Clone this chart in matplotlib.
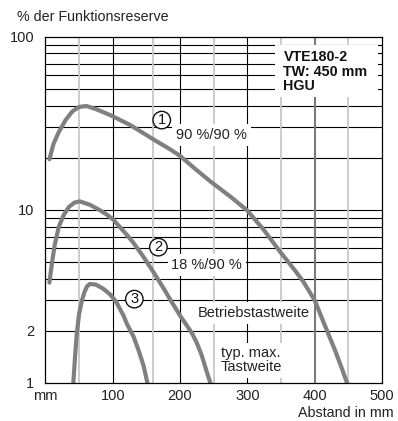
import matplotlib
matplotlib.use("Agg")
import matplotlib.pyplot as plt
from matplotlib.patches import Rectangle

plt.rcParams['font.family'] = ['Liberation Sans', 'DejaVu Sans']

# ---- data ----
c1_x = [6, 12, 20, 30, 40, 50, 61, 75, 96, 126, 162, 185, 200, 222, 245, 275,
        300, 325, 349, 370, 383, 400, 415, 430, 440, 448]
c1_y = [19.6, 24.0, 28.2, 33.0, 37.0, 39.3, 39.8, 38.2, 35.3, 30.9, 25.3, 22.4,
        20.5, 17.3, 14.6, 11.9, 9.9, 7.6, 5.7, 4.5, 3.85, 3.0, 2.15, 1.55, 1.22, 1.0]

c2_x = [6, 10, 14, 20, 27, 35, 43, 51, 66, 80, 91, 101, 121, 131, 145, 160, 175,
        185, 200, 210, 218, 225, 232, 240, 245]
c2_y = [3.8, 5.0, 6.3, 8.0, 9.3, 10.4, 11.0, 11.2, 10.7, 10.0, 9.4, 8.76, 7.17,
        6.43, 5.4, 4.4, 3.55, 3.05, 2.45, 2.15, 1.93, 1.7, 1.45, 1.15, 1.0]

c3_x = [41.5, 44, 46.5, 50, 54, 58, 62, 66, 75, 86, 96, 105, 116, 121, 131, 139,
        146, 151.5]
c3_y = [1.0, 1.4, 1.9, 2.5, 2.96, 3.35, 3.62, 3.73, 3.7, 3.5, 3.25, 2.95, 2.45,
        2.2, 1.85, 1.52, 1.25, 1.0]

x_ticks = [0, 100, 200, 300, 400, 500]
x_labels = ['mm', '100', '200', '300', '400', '500']
y_ticks = [1, 2, 10, 100]
y_labels = ['1', '2', '10', '100']

h_grid = [2, 3, 4, 5, 6, 7, 8, 9, 10, 20, 30, 40, 50, 60, 70, 80, 90]
v_grid_dark = [100, 200, 300]
v_grid_mid = [400]
v_grid_light = [50, 160, 250, 350, 450]

curve_color = '#808083'

fig = plt.figure(figsize=(3.98, 4.21), dpi=100)
ax = fig.add_axes([0.114, 0.0903, 0.846, 0.8225])
ax.set_yscale('log')
ax.set_xlim(0, 500)
ax.set_ylim(1, 100)

for v in h_grid:
    ax.axhline(v, color='black', lw=0.8, zorder=1)
for v in v_grid_dark:
    ax.axvline(v, color='black', lw=0.8, zorder=1)
for v in v_grid_mid:
    ax.axvline(v, color='#7a7a7a', lw=1.5, zorder=1)
for v in v_grid_light:
    ax.axvline(v, color='#c8c8c8', lw=1.3, zorder=1)

for xs, ys in [(c1_x, c1_y), (c2_x, c2_y), (c3_x, c3_y)]:
    ax.plot(xs, ys, color=curve_color, lw=3.0, solid_capstyle='round',
            solid_joinstyle='round', zorder=5)

ax.set_xticks(x_ticks)
ax.set_xticklabels(x_labels)
ax.set_yticks(y_ticks)
ax.set_yticklabels(y_labels)
ax.minorticks_off()
ax.tick_params(axis='both', length=0, labelsize=10.5, colors='#222222')
ax.tick_params(axis='x', pad=4)
ax.tick_params(axis='y', pad=8)
for s in ax.spines.values():
    s.set_color('black')
    s.set_linewidth(0.9)
    s.set_zorder(6)

white = dict(boxstyle='square,pad=0.25', fc='white', ec='none')

ax.add_patch(Rectangle((0.682, 0.826), 0.306, 0.150, transform=ax.transAxes,
                       fc='white', ec='none', zorder=2))
ax.text(0.707, 0.899, 'VTE180-2\nTW: 450 mm\nHGU', transform=ax.transAxes,
        fontsize=10.3, fontweight='bold', ha='left', va='center', color='#111111',
        linespacing=1.05, zorder=3)

circ = dict(boxstyle='circle,pad=0.12', fc='white', ec='#111111', lw=1.0)
ax.text(172.8, 33.0, '1', fontsize=10.5, ha='center', va='center', zorder=4,
        bbox=circ, color='#111111')
ax.text(167.8, 6.09, '2', fontsize=10.5, ha='center', va='center', zorder=4,
        bbox=circ, color='#111111')
ax.text(132.1, 3.05, '3', fontsize=10.5, ha='center', va='center', zorder=4,
        bbox=circ, color='#111111')

ax.text(246.8, 27.1, '90 %/90 %', fontsize=10.5, ha='center', va='center',
        zorder=3, bbox=white, color='#222222')
ax.text(239.4, 4.81, '18 %/90 %', fontsize=10.5, ha='center', va='center',
        zorder=3, bbox=white, color='#222222')
ax.text(309, 2.54, 'Betriebstastweite', fontsize=10.5, ha='center', va='center',
        zorder=3, bbox=white, color='#222222')
ax.text(260.5, 1.354, 'typ. max.\nTastweite', fontsize=10.5, ha='left',
        va='center', zorder=3, bbox=white, color='#222222', linespacing=1.0)

fig.text(17 / 398, 1 - 17.3 / 421, '% der Funktionsreserve', fontsize=10.3,
         ha='left', va='center', color='#222222')
fig.text(394 / 398, 1 - 413 / 421, 'Abstand in mm', fontsize=10.3,
         ha='right', va='center', color='#222222')

fig.savefig('out.png', dpi=100)
